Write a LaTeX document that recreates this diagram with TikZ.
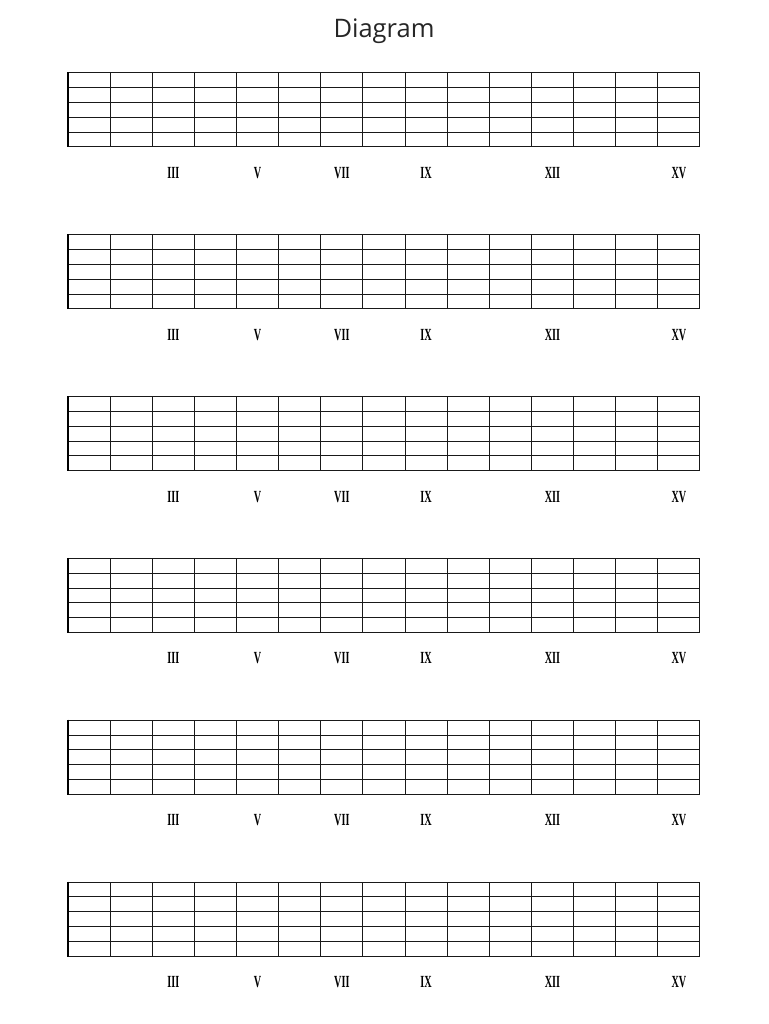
\documentclass[tikz,border=0pt]{standalone}
\usepackage{fontspec}
\setmainfont{Liberation Serif}
\newfontfamily\titlefont{Open Sans}
\usepackage{graphicx}

\begin{document}
\begin{tikzpicture}[x=1pt, y=-1pt,
stringline/.style={draw=black!90, line width=1pt},
fretline/.style={draw=black!90, line width=1pt},
nutline/.style={draw=black, line width=2.2pt},
marker/.style={font=\fontsize{17}{17}\selectfont, inner sep=0pt, text=black},
heading/.style={font=\titlefont\fontsize{25.5}{30}\selectfont, text=black!85}
]
\useasboundingbox (0,0) rectangle (768,1024);
%Title
\node[heading] (title) at (384,31) {Diagram};
%Boards
\foreach \g in {0,...,5}{
  \pgfmathsetmacro{\gy}{73+161.8*\g}
  %Strings
  \foreach \s in {0,...,5}
    \draw[stringline] (68,{\gy+14.8*\s}) -- (700,{\gy+14.8*\s});
  %Frets
  \foreach \f in {1,...,15}
    \draw[fretline] ({68+42.13*\f},\gy) -- ({68+42.13*\f},{\gy+74});
  \draw[nutline] (68,{\gy-0.5}) -- (68,{\gy+74.5});
  %Markers
  \foreach \f/\r in {3/III, 5/V, 7/VII, 9/IX, 12/XII, 15/XV}
    \node[marker] (m\g-\f) at ({68+42.13*(\f-0.5)},{\gy+100}) {\scalebox{0.6}[1]{\bfseries\r}};
}
\end{tikzpicture}
\end{document}
